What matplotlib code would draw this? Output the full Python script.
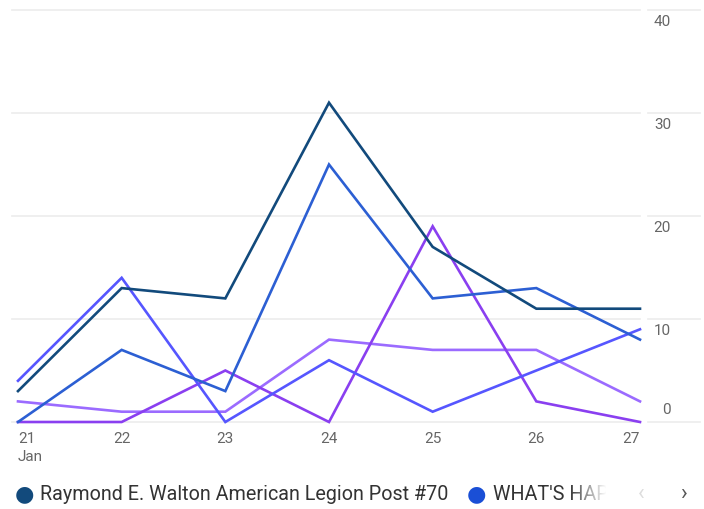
import matplotlib.pyplot as plt
import matplotlib.transforms as mtransforms
import numpy as np

plt.rcParams['font.family'] = ['Roboto', 'DejaVu Sans']

days = [21, 22, 23, 24, 25, 26, 27]
day_labels = ['21', '22', '23', '24', '25', '26', '27']
y_ticks = [0, 10, 20, 30, 40]

raymond = [3, 13, 12, 31, 17, 11, 11]
whats_happening = [0, 7, 3, 25, 12, 13, 8]
series_3 = [4, 14, 0, 6, 1, 5, 9]
series_4 = [0, 0, 5, 0, 19, 2, 0]
series_5 = [2, 1, 1, 8, 7, 7, 2]

series = [
    (series_5, '#9b6bff'),
    (series_4, '#8a3ff0'),
    (series_3, '#5656ff'),
    (whats_happening, '#2c5fd3'),
    (raymond, '#124a7c'),
]

W, H = 704, 509
fig = plt.figure(figsize=(W / 100, H / 100), dpi=100)

# axes box in pixels: x 12..640, y 10..422 (from top)
ax_l, ax_r, ax_t, ax_b = 12, 640, 10, 422
ax = fig.add_axes([ax_l / W, 1 - ax_b / H, (ax_r - ax_l) / W, (ax_b - ax_t) / H])

x0 = days[0] - (18 - ax_l) / ((ax_r - 18) / (days[-1] - days[0]))
ax.set_xlim(x0, days[-1])
ax.set_ylim(0, 40)

for vals, col in series:
    ax.plot(days, vals, color=col, lw=1.9, clip_on=False, solid_joinstyle='miter')

# gridlines (inside plot and short segment under the labels)
trans = mtransforms.blended_transform_factory(ax.transAxes, ax.transData)
for t in y_ticks:
    ax.plot([0, 1], [t, t], color='#ececec', lw=1.2, transform=trans, zorder=0, clip_on=False)
    ax.plot([(648 - ax_l) / (ax_r - ax_l), (700 - ax_l) / (ax_r - ax_l)], [t, t],
            color='#ececec', lw=1.2, transform=trans, zorder=0, clip_on=False)
    off = 12 if t == 0 else -12
    ax.annotate(str(t), xy=((671 - ax_l) / (ax_r - ax_l), t), xycoords=trans,
                xytext=(0, off * 0.72), textcoords='offset points',
                ha='right', va='center', fontsize=11, color='#666666')

for s in ax.spines.values():
    s.set_visible(False)
ax.set_yticks([])
ax.set_xticks(days)
ax.set_xticklabels(day_labels, fontsize=11, color='#666666')
ax.tick_params(axis='x', length=0, pad=7)
labels = ax.get_xticklabels()
labels[0].set_ha('left')
labels[-1].set_ha('right')
ax.annotate('Jan', xy=(days[0], 0), xycoords='data', xytext=(0, -25),
            textcoords='offset points', ha='left', va='center',
            fontsize=11, color='#666666', annotation_clip=False)

# legend row
ly = 1 - 495 / H
fig.text(24 / W, ly, '\u25cf', color='#124a7c', fontsize=16, ha='center', va='center')
fig.text(40 / W, ly, 'Raymond E. Walton American Legion Post #70', color='#333333',
         fontsize=14.2, ha='left', va='center')
fig.text(476 / W, ly, '\u25cf', color='#1a4fd6', fontsize=16, ha='center', va='center')
fig.text(493 / W, ly, "WHAT'S HAP", color='#333333', fontsize=14.2,
         ha='left', va='center')

# fade-out of the truncated legend entry
fade = fig.add_axes([568 / W, 1 - 508 / H, 50 / W, 26 / H], zorder=20)
grad = np.ones((1, 50, 4))
grad[0, :, 3] = np.clip(np.linspace(0.0, 1.3, 50), 0, 1)
fade.imshow(grad, aspect='auto', extent=[0, 1, 0, 1])
fade.set_axis_off()

fig.text(641 / W, ly, '\u2039', color='#dddddd', fontsize=16, ha='center', va='center')
fig.text(683 / W, ly, '\u203a', color='#555555', fontsize=16, ha='center', va='center')

fig.savefig('out.png', dpi=100, facecolor='white')
